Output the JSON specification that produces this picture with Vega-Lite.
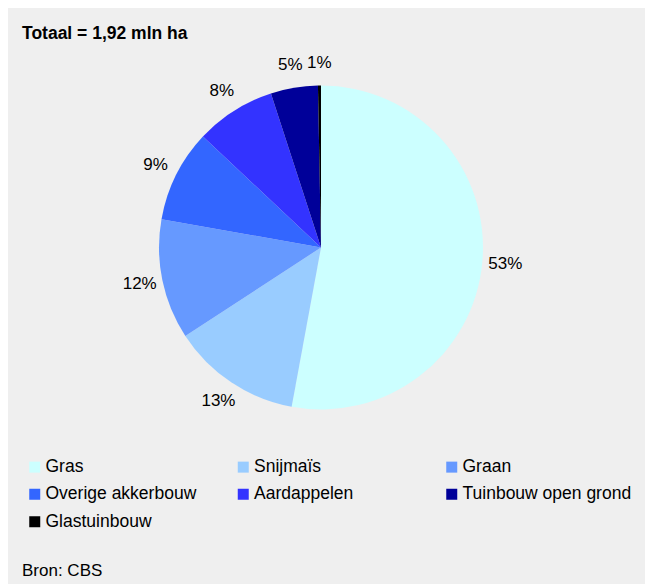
{
  "$schema": "https://vega.github.io/schema/vega-lite/v6.json",
  "width": 637,
  "height": 576,
  "autosize": {"type": "none"},
  "padding": {"left": 8, "top": 8, "right": 0, "bottom": 0},
  "background": "white",
  "view": {"fill": "#efefef", "stroke": null},
  "config": {"font": "Liberation Sans"},
  "title": {"text": "Totaal = 1,92 mln ha", "anchor": "start", "frame": "group", "orient": "top", "offset": -48, "baseline": "alphabetic", "dx": 14, "fontSize": 17.5, "fontWeight": "bold", "font": "Liberation Sans", "color": "#000000"},
  "data": {"values": [
    {"idx": 1, "category": "Gras", "value": 52.9, "label": "53%"},
    {"idx": 2, "category": "Snijmaïs", "value": 12.9, "label": "13%"},
    {"idx": 3, "category": "Graan", "value": 12.0, "label": "12%"},
    {"idx": 4, "category": "Overige akkerbouw", "value": 9.2, "label": "9%"},
    {"idx": 5, "category": "Aardappelen", "value": 8.0, "label": "8%"},
    {"idx": 6, "category": "Tuinbouw open grond", "value": 4.7, "label": "5%"},
    {"idx": 7, "category": "Glastuinbouw", "value": 0.3, "label": "1%"}
  ]},
  "encoding": {
    "theta": {"field": "value", "type": "quantitative", "stack": true},
    "order": {"field": "idx", "type": "quantitative"}
  },
  "layer": [
    {
      "mark": {"type": "arc", "radius": 162, "xOffset": -5.5, "yOffset": -48.5},
      "encoding": {
        "color": {
          "field": "category", "type": "nominal",
          "scale": {
            "domain": ["Gras", "Snijmaïs", "Graan", "Overige akkerbouw", "Aardappelen", "Tuinbouw open grond", "Glastuinbouw"],
            "range": ["#ccffff", "#99ccff", "#6699ff", "#3366ff", "#3333ff", "#000099", "#000000"]
          },
          "legend": {
            "title": "Bron: CBS", "titleOrient": "bottom", "titleAnchor": "start",
            "orient": "none", "legendX": 14, "legendY": 450, "direction": "horizontal",
            "columns": 3, "gridAlign": "all", "columnPadding": 15.5, "rowPadding": 8.5,
            "symbolType": "square", "symbolSize": 121, "symbolOffset": 4, "symbolStrokeWidth": 0,
            "labelOffset": 2, "labelFontSize": 17.5, "labelFont": "Liberation Sans", "labelColor": "#000000", "labelLimit": 300,
            "titleFontSize": 17, "titleFont": "Liberation Sans", "titleFontWeight": "normal", "titleColor": "#000000", "titlePadding": 33,
            "padding": 0
          }
        }
      }
    },
    {
      "mark": {"type": "text", "radius": 185, "xOffset": -5.5, "yOffset": -48.5, "fontSize": 17, "font": "Liberation Sans", "color": "#000000"},
      "encoding": {"text": {"field": "label", "type": "nominal"}}
    }
  ]
}
